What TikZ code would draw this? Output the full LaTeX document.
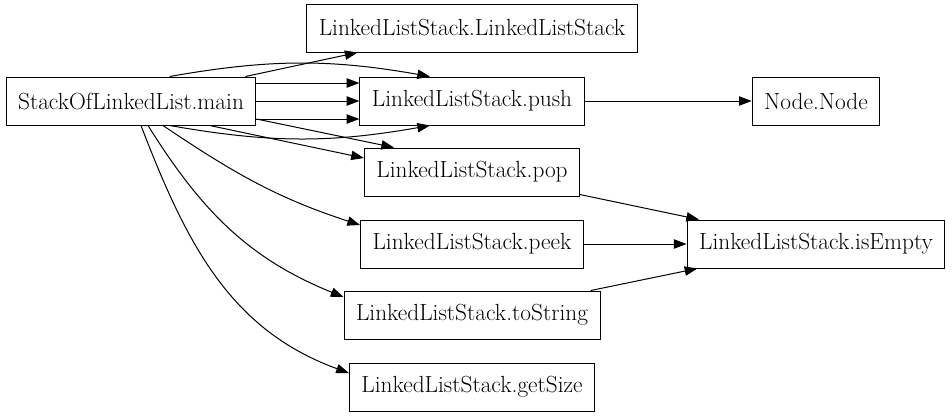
\documentclass[tikz,border=0pt]{standalone}
\usepackage{tikz}
\usetikzlibrary{arrows.meta, positioning}
\tikzstyle{box} = [rectangle, minimum height=36pt, inner xsep=9pt, text centered, draw=black, line width=0.75pt, font=\fontsize{17.5}{21}\selectfont]
\tikzstyle{arrow} = [line width=0.75pt,->,>={Triangle[length=9.5pt,width=7pt]}]

\begin{document}
\begin{tikzpicture}

\useasboundingbox (-98.25pt,75.75pt) rectangle (615.75pt,-238.5pt);

%% NODES

\node (main) [box] {StackOfLinkedList.main};
\node (push) [box, right of=main, node distance=255.75pt] {LinkedListStack.push};
\node (lls) [box, above of=push, node distance=54.75pt] {LinkedListStack.LinkedListStack};
\node (nnode) [box, right of=push, node distance=258pt] {Node.Node};
\node (pop) [box, below of=push, node distance=53.25pt] {LinkedListStack.pop};
\node (peek) [box, below of=pop, node distance=54pt] {LinkedListStack.peek};
\node (isempty) [box, right of=peek, node distance=258pt] {LinkedListStack.isEmpty};
\node (tostring) [box, below of=peek, node distance=53.25pt] {LinkedListStack.toString};
\node (getsize) [box, below of=tostring, node distance=54pt] {LinkedListStack.getSize};

%% ARROWS

\draw [arrow] (main) -- (lls);
\draw [arrow] ([xshift=29pt]main.north) to[bend left=10] ([xshift=-31.5pt]push.north);
\draw [arrow] ([yshift=13.5pt]main.east) -- ([yshift=13.5pt]push.west);
\draw [arrow] (main) -- (push);
\draw [arrow] ([yshift=-13.5pt]main.east) -- ([yshift=-13.5pt]push.west);
\draw [arrow] ([xshift=29pt]main.south) to[bend right=10] ([xshift=-31.5pt]push.south);
\draw [arrow] ([yshift=-13.5pt]main.east) -- ([xshift=-58.5pt]pop.north);
\draw [arrow] ([xshift=59pt]main.south) -- ([yshift=10.5pt]pop.west);
\draw [arrow] ([xshift=24pt]main.south) to[out=-34,in=162] ([yshift=14.25pt]peek.west);
\draw [arrow] ([xshift=12.75pt]main.south) to[out=-58,in=158] ([yshift=13.5pt]tostring.west);
\draw [arrow] ([xshift=7.5pt]main.south) to[out=-69,in=160] ([yshift=10.5pt]getsize.west);
\draw [arrow] (push) -- (nnode);
\draw [arrow] (pop) -- (isempty);
\draw [arrow] (peek) -- (isempty);
\draw [arrow] (tostring) -- (isempty);

\end{tikzpicture}
\end{document}
